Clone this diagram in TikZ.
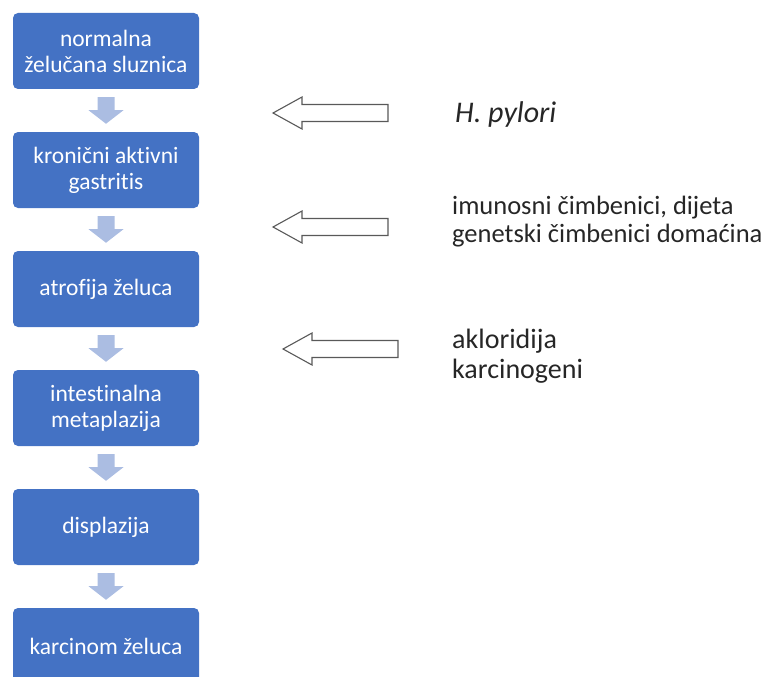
\documentclass[tikz,border=0pt]{standalone}
\usepackage{fontspec}
\setmainfont[Ligatures={NoCommon}]{Carlito}
\usepackage{tikz}
\usetikzlibrary{calc}

\definecolor{boxblue}{HTML}{4472C4}
\definecolor{arrowblue}{HTML}{ABBDE2}
\definecolor{outlinegray}{HTML}{595959}
\definecolor{textgray}{HTML}{262626}

\tikzset{
  stage/.style={draw=none, fill=boxblue, rounded corners=5pt, text=white,
    minimum width=186pt, minimum height=76pt, align=center, inner sep=2pt,
    font=\fontsize{23.5}{26}\selectfont},
  downarrow/.style={fill=arrowblue, draw=none},
  hollow/.style={draw=outlinegray, line width=1.1pt, fill=white, line join=miter},
  factor/.style={anchor=west, align=left, text=textgray, inner sep=0pt,
    font=\fontsize{26.5}{28}\selectfont}
}

\begin{document}
\begin{tikzpicture}[x=1pt, y=-1pt]
  \useasboundingbox (0,0) rectangle (766,677);

  % stages
  \node[stage] (normalna) at (106,51) {normalna\\želučana sluznica};
  \node[stage] (kronicni) at (106,170) {kronični aktivni\\gastritis};
  \node[stage] (atrofija) at (106,289) {atrofija želuca};
  \node[stage] (metaplazija) at (106,408) {intestinalna\\metaplazija};
  \node[stage] (displazija) at (106,527) {displazija};
  \node[stage] (karcinom) at (106,646) {karcinom želuca};

  % arrows between stages
  \foreach \a/\b in {normalna/kronicni, kronicni/atrofija, atrofija/metaplazija,
                     metaplazija/displazija, displazija/karcinom} {
    \fill[downarrow] ($(\a.south)+(-8.5,8)$) -- ++(17,0) -- ++(0,13) -- ++(9,0)
      -- ($(\b.north)+(0,-8)$) -- ($(\a.south)+(-17.5,21)$) -- ++(9,0) -- cycle;
  }

  % factors
  \node[factor, font=\fontsize{30}{32}\selectfont\itshape] (pylori) at (455,115) {H. pylori};
  \node[factor] (imunosni) at (452,222) {imunosni čimbenici, dijeta\\genetski čimbenici domaćina};
  \node[factor, font=\fontsize{28}{30}\selectfont] (akloridija) at (452,356) {akloridija\\karcinogeni};

  % hollow arrows
  \coordinate (tipA) at (273,113);
  \coordinate (tipB) at (273,227);
  \coordinate (tipC) at (283,349);
  \foreach \t in {tipA, tipB, tipC} {
    \draw[hollow] (\t) -- ++(29,-16) -- ++(0,7.5) -- ++(86,0) -- ++(0,17)
      -- ++(-86,0) -- ++(0,7.5) -- cycle;
  }
\end{tikzpicture}
\end{document}
